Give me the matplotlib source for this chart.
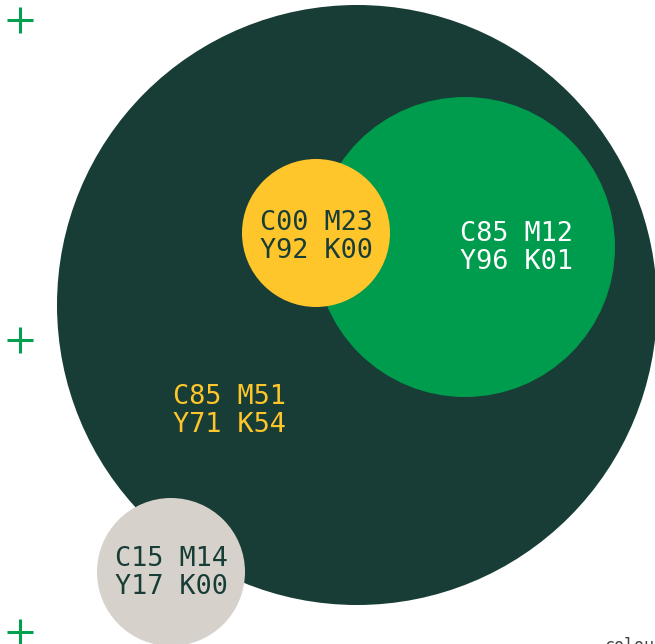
import matplotlib.pyplot as plt
from matplotlib.patches import Circle

# swatch data (pixel space of the original layout)
labels = ['C85 M51\nY71 K54', 'C85 M12\nY96 K01', 'C00 M23\nY92 K00', 'C15 M14\nY17 K00']
fills = ['#183d36', '#009c4d', '#ffc62c', '#d6d1cb']
text_colors = ['#ffc62c', '#ffffff', '#183d36', '#183d36']
cx = [357, 465, 316, 171]
cy = [305, 247, 233, 572]
radius = [300, 150, 74, 74]
label_x = [229, 516, 316, 171]
label_y = [411, 248, 237, 573]

marks_y = [20, 340, 632]

fig = plt.figure(figsize=(6.55, 6.44), dpi=100)
ax = fig.add_axes([0, 0, 1, 1])
ax.set_xlim(0, 655)
ax.set_ylim(644, 0)
ax.set_aspect('equal')
ax.axis('off')

for i in range(len(labels)):
    ax.add_patch(Circle((cx[i], cy[i]), radius[i], color=fills[i], lw=0))
    ax.text(label_x[i], label_y[i], labels[i], color=text_colors[i],
            family='DejaVu Sans Mono', fontsize=19.4, ha='center', va='center',
            linespacing=1.07)

# crosshair marks down the left side
for y in marks_y:
    ax.plot([7, 33], [y, y], color='#00a04f', lw=2.2, solid_capstyle='butt')
    ax.plot([20, 20], [y - 13, y + 13], color='#00a04f', lw=2.2, solid_capstyle='butt')

# caption runs off the bottom-right corner, as in the original
ax.text(604, 651, 'colours', color='#444444', family='DejaVu Sans Mono',
        fontsize=12, ha='left', va='baseline', clip_on=True)

fig.savefig('out.png', dpi=100)
